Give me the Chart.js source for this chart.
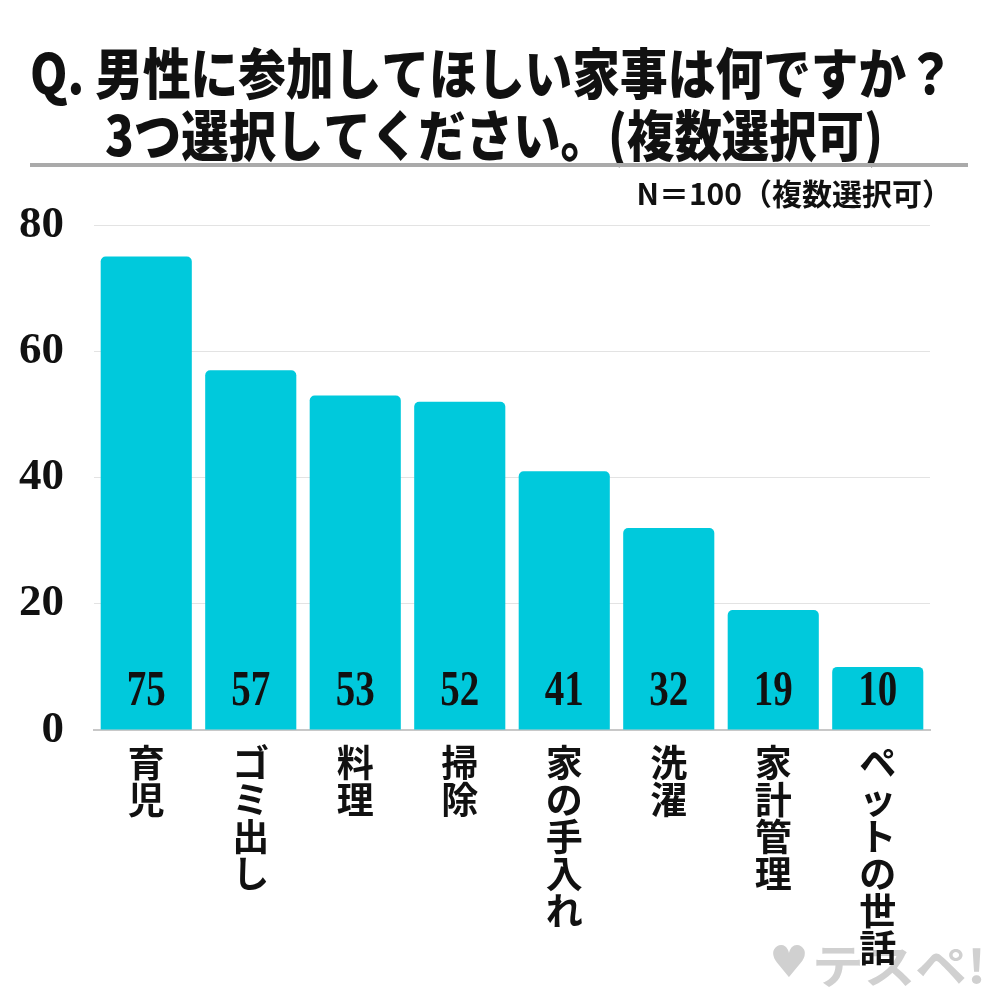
<!DOCTYPE html>
<html lang="ja">
<head>
<meta charset="utf-8">
<title>男性に参加してほしい家事</title>
<script src="https://cdn.jsdelivr.net/npm/chart.js@4.4.1/dist/chart.umd.min.js"></script>
<style>
  html, body { margin: 0; padding: 0; background: #fff; }
  #wrap { width: 1000px; height: 1000px; }
</style>
</head>
<body>
<div id="wrap"><canvas id="chart" width="1000" height="1000"></canvas></div>
<script>
// データ
const categories = ['育児', 'ゴミ出し', '料理', '掃除', '家の手入れ', '洗濯', '家計管理', 'ペットの世話'];
const values = [75, 57, 53, 52, 41, 32, 19, 10];
const yMin = 0;
const yMax = 80;
const yStep = 20;
const titleLines = ['Q. 男性に参加してほしい家事は何ですか？', '3つ選択してください。(複数選択可)'];
const noteText = 'N＝100（複数選択可）';
const watermarkText = 'テスペ!';

// テキストを指定幅に収まるよう横方向に縮めて描く
function drawFitted(ctx, text, x, y, width) {
    const sx = width / ctx.measureText(text).width;
    ctx.save();
    ctx.translate(x, y);
    ctx.scale(sx, 1);
    ctx.fillText(text, 0, 0);
    ctx.restore();
}

// タイトル・区切り線・注記・ロゴ
const headerPlugin = {
    id: 'header',
    beforeDraw(chart) {
        const ctx = chart.ctx;
        ctx.save();
        ctx.fillStyle = '#ffffff';
        ctx.fillRect(0, 0, chart.width, chart.height);

        // タイトル（縦長の太字）
        ctx.fillStyle = '#111111';
        ctx.font = '900 55px "Noto Sans CJK JP"';
        ctx.textAlign = 'center';
        ctx.textBaseline = 'middle';
        drawFitted(ctx, titleLines[0], 492, 73, 924);
        drawFitted(ctx, titleLines[1], 494, 135, 778);

        // 区切り線
        ctx.fillStyle = '#aaaaaa';
        ctx.fillRect(30, 163, 938, 4);

        // 注記
        ctx.fillStyle = '#111111';
        ctx.font = 'bold 30px "Noto Sans CJK JP"';
        ctx.textAlign = 'right';
        ctx.fillText(noteText, 952, 194);

        // ロゴ（薄いグレー）
        ctx.fillStyle = '#d0d0d0';
        ctx.textAlign = 'center';
        ctx.font = 'bold 44px "DejaVu Sans"';
        ctx.fillText('♥', 789, 966);
        ctx.font = 'bold 46px "Noto Sans CJK JP"';
        ctx.textAlign = 'left';
        drawFitted(ctx, watermarkText, 812, 966, 174);
        ctx.restore();
    }
};

// 棒の下部に値を表示
const valueLabelPlugin = {
    id: 'valueLabels',
    afterDatasetsDraw(chart) {
        const ctx = chart.ctx;
        const meta = chart.getDatasetMeta(0);
        const y0 = chart.scales.y.getPixelForValue(0);
        ctx.save();
        ctx.fillStyle = '#111111';
        ctx.font = 'bold 50px "Liberation Serif"';
        ctx.textAlign = 'center';
        ctx.textBaseline = 'middle';
        meta.data.forEach((bar, i) => {
            ctx.save();
            ctx.translate(bar.x, y0 - 38);
            ctx.scale(0.78, 1);
            ctx.fillText(String(values[i]), 0, 0);
            ctx.restore();
        });
        ctx.restore();
    }
};

const ctx = document.getElementById('chart').getContext('2d');
new Chart(ctx, {
    type: 'bar',
    data: {
        labels: categories.map(c => Array.from(c)),
        datasets: [{
            data: values,
            backgroundColor: '#00c9dc',
            borderRadius: { topLeft: 5, topRight: 5 },
            borderSkipped: 'bottom',
            barPercentage: 0.872,
            categoryPercentage: 1
        }]
    },
    options: {
        responsive: false,
        animation: false,
        layout: { padding: { top: 225, right: 70, bottom: 0, left: 0 } },
        plugins: {
            legend: { display: false },
            tooltip: { enabled: false },
            title: { display: false }
        },
        scales: {
            x: {
                grid: { display: false, drawTicks: false },
                border: { display: true, color: '#c8c8c8', width: 2 },
                ticks: {
                    color: '#111111',
                    font: { family: '"Noto Sans CJK JP"', size: 37, weight: 'bold', lineHeight: 1.0 },
                    padding: 14,
                    maxRotation: 0,
                    minRotation: 0,
                    autoSkip: false
                },
                afterFit(scale) { scale.height = 270; }
            },
            y: {
                min: yMin,
                max: yMax,
                grid: { color: '#e3e3e3', lineWidth: 1, drawTicks: false },
                border: { display: false },
                ticks: {
                    stepSize: yStep,
                    color: '#111111',
                    font: { family: '"Liberation Serif"', size: 45, weight: 'bold' },
                    padding: 30
                },
                afterFit(scale) { scale.width = 94; }
            }
        }
    },
    plugins: [headerPlugin, valueLabelPlugin]
});
</script>
</body>
</html>
